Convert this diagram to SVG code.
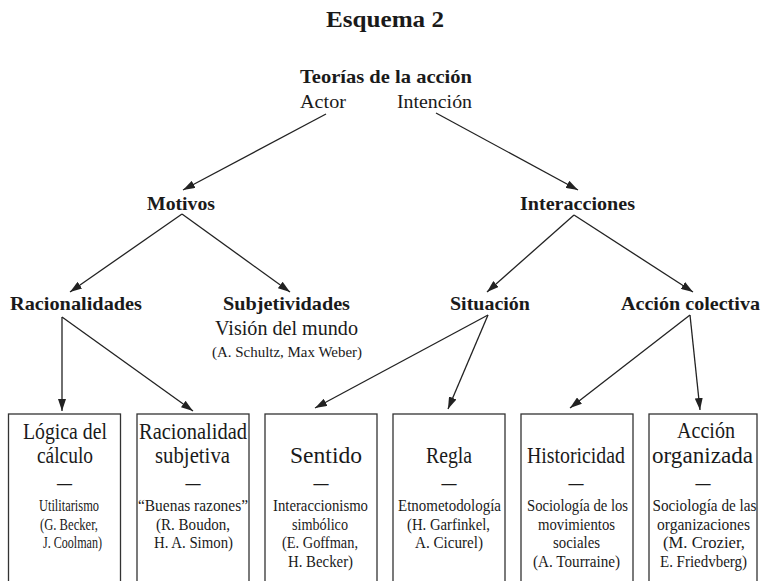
<svg xmlns="http://www.w3.org/2000/svg" width="765" height="581" viewBox="0 0 765 581" font-family="'Liberation Serif', 'Times New Roman', serif">
<style>
text{font-family:'Liberation Serif','Times New Roman',serif;fill:#1a1a1a;text-anchor:middle}
.b{font-weight:bold;font-size:19px}
.t{font-size:23px}
.s{font-size:16px}
.box{fill:none;stroke:#333;stroke-width:1.3}
.c line{stroke:#222;stroke-width:1.3;marker-end:url(#ah)}
</style>
<defs>
<marker id="ah" viewBox="0 0 12 8" refX="12" refY="4" markerWidth="12" markerHeight="8" markerUnits="userSpaceOnUse" orient="auto">
<path d="M0,0 L12,4 L0,8 Z" fill="#222"/>
</marker>
</defs>
<text x="385" y="27" font-weight="bold" font-size="24" textLength="118" lengthAdjust="spacingAndGlyphs">Esquema 2</text>
<g id="root">
<text class="b" x="386" y="83" textLength="172" lengthAdjust="spacingAndGlyphs">Teorías de la acción</text>
<text x="323" y="108" font-size="19" textLength="46" lengthAdjust="spacingAndGlyphs">Actor</text>
<text x="434.5" y="108" font-size="19" textLength="75" lengthAdjust="spacingAndGlyphs">Intención</text>
</g>
<g id="motivos"><text class="b" x="181" y="210" textLength="68" lengthAdjust="spacingAndGlyphs">Motivos</text></g>
<g id="interacciones"><text class="b" x="577.5" y="210" textLength="115" lengthAdjust="spacingAndGlyphs">Interacciones</text></g>
<g id="racionalidades"><text class="b" x="76" y="310" textLength="132" lengthAdjust="spacingAndGlyphs">Racionalidades</text></g>
<g id="subjetividades">
<text class="b" x="286.5" y="310" textLength="127" lengthAdjust="spacingAndGlyphs">Subjetividades</text>
<text x="286.5" y="335" font-size="21" textLength="143" lengthAdjust="spacingAndGlyphs">Visión del mundo</text>
<text x="287" y="357" font-size="15" textLength="150" lengthAdjust="spacingAndGlyphs">(A. Schultz, Max Weber)</text>
</g>
<g id="situacion"><text class="b" x="490" y="310" textLength="80" lengthAdjust="spacingAndGlyphs">Situación</text></g>
<g id="accion-colectiva"><text class="b" x="690.5" y="310" textLength="139" lengthAdjust="spacingAndGlyphs">Acción colectiva</text></g>

<g id="logica">
<rect class="box" x="8.5" y="414" width="112" height="200"/>
<text class="t" x="65" y="439" textLength="84" lengthAdjust="spacingAndGlyphs">Lógica del</text>
<text class="t" x="65" y="463" textLength="56" lengthAdjust="spacingAndGlyphs">cálculo</text>
<text class="t" x="64.5" y="490" textLength="15" lengthAdjust="spacingAndGlyphs">—</text>
<text class="s" x="69" y="511" textLength="60" lengthAdjust="spacingAndGlyphs">Utilitarismo</text>
<text class="s" x="69" y="529.5" textLength="58" lengthAdjust="spacingAndGlyphs">(G. Becker,</text>
<text class="s" x="72.5" y="548" textLength="59" lengthAdjust="spacingAndGlyphs">J. Coolman)</text>
</g>
<g id="racionalidad-subjetiva">
<rect class="box" x="137" y="414" width="112" height="200"/>
<text class="t" x="193" y="439" textLength="108" lengthAdjust="spacingAndGlyphs">Racionalidad</text>
<text class="t" x="192.5" y="463" textLength="75" lengthAdjust="spacingAndGlyphs">subjetiva</text>
<text class="t" x="193" y="490" textLength="15" lengthAdjust="spacingAndGlyphs">—</text>
<text class="s" x="193" y="511" textLength="110" lengthAdjust="spacingAndGlyphs">“Buenas razones”</text>
<text class="s" x="193" y="529.5" textLength="74" lengthAdjust="spacingAndGlyphs">(R. Boudon,</text>
<text class="s" x="193.5" y="548" textLength="79" lengthAdjust="spacingAndGlyphs">H. A. Simon)</text>
</g>
<g id="sentido">
<rect class="box" x="265" y="414" width="112" height="200"/>
<text class="t" x="326" y="463" textLength="72" lengthAdjust="spacingAndGlyphs">Sentido</text>
<text class="t" x="321" y="490" textLength="15" lengthAdjust="spacingAndGlyphs">—</text>
<text class="s" x="320.5" y="511" textLength="95" lengthAdjust="spacingAndGlyphs">Interaccionismo</text>
<text class="s" x="320" y="529.5" textLength="56" lengthAdjust="spacingAndGlyphs">simbólico</text>
<text class="s" x="320" y="548" textLength="76" lengthAdjust="spacingAndGlyphs">(E. Goffman,</text>
<text class="s" x="320.5" y="566.5" textLength="65" lengthAdjust="spacingAndGlyphs">H. Becker)</text>
</g>
<g id="regla">
<rect class="box" x="393" y="414" width="112" height="200"/>
<text class="t" x="449" y="463" textLength="46" lengthAdjust="spacingAndGlyphs">Regla</text>
<text class="t" x="449" y="490" textLength="15" lengthAdjust="spacingAndGlyphs">—</text>
<text class="s" x="449.5" y="511" textLength="103" lengthAdjust="spacingAndGlyphs">Etnometodología</text>
<text class="s" x="448.5" y="529.5" textLength="83" lengthAdjust="spacingAndGlyphs">(H. Garfinkel,</text>
<text class="s" x="449" y="548" textLength="68" lengthAdjust="spacingAndGlyphs">A. Cicurel)</text>
</g>
<g id="historicidad">
<rect class="box" x="521" y="414" width="112" height="200"/>
<text class="t" x="576" y="463" textLength="98" lengthAdjust="spacingAndGlyphs">Historicidad</text>
<text class="t" x="576" y="490" textLength="15" lengthAdjust="spacingAndGlyphs">—</text>
<text class="s" x="577.5" y="511" textLength="101" lengthAdjust="spacingAndGlyphs">Sociología de los</text>
<text class="s" x="576.5" y="529.5" textLength="77" lengthAdjust="spacingAndGlyphs">movimientos</text>
<text class="s" x="576.5" y="548" textLength="47" lengthAdjust="spacingAndGlyphs">sociales</text>
<text class="s" x="576.5" y="566.5" textLength="87" lengthAdjust="spacingAndGlyphs">(A. Tourraine)</text>
</g>
<g id="accion-organizada">
<rect class="box" x="649" y="414" width="108" height="200"/>
<text class="t" x="706" y="438" textLength="58" lengthAdjust="spacingAndGlyphs">Acción</text>
<text class="t" x="702.5" y="463" textLength="101" lengthAdjust="spacingAndGlyphs">organizada</text>
<text class="t" x="703" y="490" textLength="15" lengthAdjust="spacingAndGlyphs">—</text>
<text class="s" x="704.5" y="511" textLength="104" lengthAdjust="spacingAndGlyphs">Sociología de las</text>
<text class="s" x="703.5" y="529.5" textLength="93" lengthAdjust="spacingAndGlyphs">organizaciones</text>
<text class="s" x="704" y="548" textLength="82" lengthAdjust="spacingAndGlyphs">(M. Crozier,</text>
<text class="s" x="703.5" y="566.5" textLength="87" lengthAdjust="spacingAndGlyphs">E. Friedvberg)</text>
</g>

<g id="connectors" class="c">
<line x1="326" y1="114" x2="183" y2="190"/>
<line x1="436" y1="113" x2="578" y2="190"/>
<line x1="182" y1="214" x2="70" y2="292"/>
<line x1="182" y1="214" x2="290" y2="292"/>
<line x1="62" y1="317" x2="62" y2="411"/>
<line x1="62" y1="317" x2="193" y2="411"/>
<line x1="574" y1="215" x2="487" y2="292"/>
<line x1="574" y1="215" x2="693" y2="292"/>
<line x1="488" y1="315" x2="315" y2="408"/>
<line x1="488" y1="315" x2="448" y2="409"/>
<line x1="690" y1="315" x2="570" y2="408"/>
<line x1="690" y1="315" x2="700" y2="410"/>
</g>
</svg>
